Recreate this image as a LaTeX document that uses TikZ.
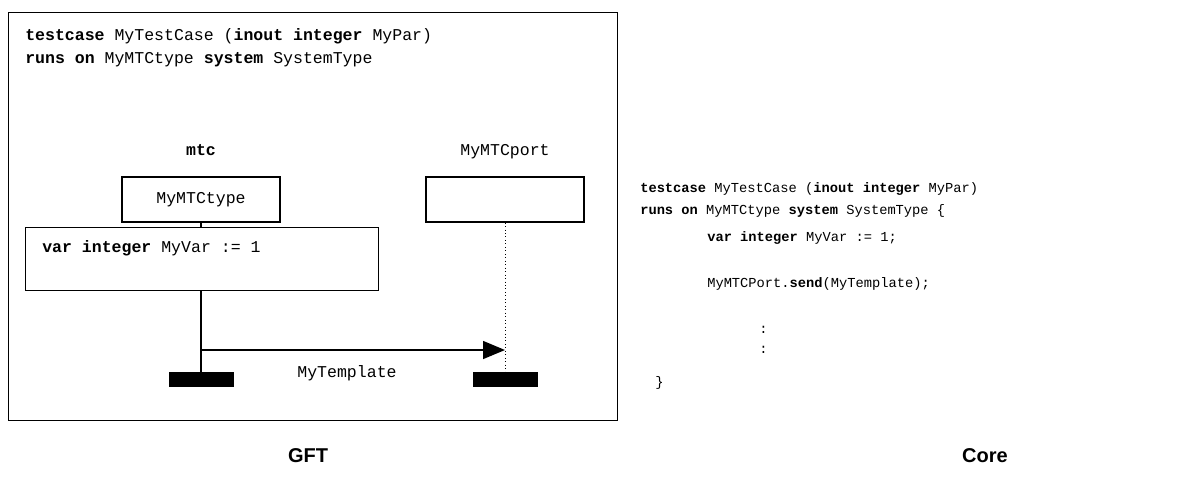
\documentclass[tikz,border=0pt]{standalone}
\usepackage{fontspec}
\setmainfont{Liberation Sans}
\setsansfont{Liberation Sans}
\setmonofont{Liberation Mono}
\usepackage{tikz}
\usetikzlibrary{
  arrows.meta,
  calc,
  positioning
}
\definecolor{MscBlack}{HTML}{000000}
\tikzset{
  every picture/.style = {line join=miter},
  code/.style = {
    font=\ttfamily\fontsize{12.4}{15}\selectfont,
    text=MscBlack,
    inner sep=0pt,
    anchor=base west
  },
  code head/.style = {code, anchor=base},
  core code/.style = {code, font=\ttfamily\fontsize{10.3}{13}\selectfont},
  frame box/.style = {draw=MscBlack, line width=1.1pt},
  instance box/.style = {
    draw=MscBlack,
    fill=white,
    line width=0.9pt,
    minimum width=118.5pt,
    minimum height=33.75pt,
    inner sep=0pt,
    font=\ttfamily\fontsize{12.4}{15}\selectfont
  },
  action box/.style = {
    draw=MscBlack,
    line width=0.9pt,
    minimum width=264.75pt,
    minimum height=47.25pt,
    inner sep=0pt
  },
  end bar/.style = {
    fill=MscBlack,
    minimum width=48.75pt,
    minimum height=11.25pt,
    inner sep=0pt
  },
  lifeline/.style = {draw=MscBlack, line width=0.9pt},
  port line/.style = {draw=MscBlack, line width=0.6pt, dotted},
  message/.style = {
    -{Triangle[length=16.5pt,width=13.5pt]},
    draw=MscBlack,
    line width=1.1pt
  },
  caption/.style = {font=\sffamily\bfseries\fontsize{15}{18}\selectfont, anchor=base}
}

\begin{document}
\begin{tikzpicture}[x=0.75pt,y=-0.75pt]
  \useasboundingbox (0,0) rectangle (1181,480);

  % GFT side
  \node[frame box, minimum width=456.75pt, minimum height=306pt, anchor=north west] (frame) at (8,12) {};
  \node[code] (hdra) at (25,40) {\textbf{testcase} MyTestCase (\textbf{inout integer} MyPar)};
  \node[code] (hdrb) at (25,63) {\textbf{runs on} MyMTCtype \textbf{system} SystemType};

  \node[code head] (mtclbl) at (201,155) {\textbf{mtc}};
  \node[code head] (portlbl) at (505,155) {MyMTCport};

  \node[instance box] (mtcbox) at (201,199.5) {MyMTCtype};
  \node[instance box] (portbox) at (505,199.5) {};

  \node[action box, anchor=north west] (varbox) at (25,227) {};
  \node[code] (vartxt) at (42,252) {\textbf{var integer} MyVar := 1};

  \node[end bar] (mtcbar) at (201,379.5) {};
  \node[end bar] (portbar) at (505,379.5) {};

  \draw[lifeline] (mtcbox.south) -- (mtcbox.south |- varbox.north);
  \draw[lifeline] (mtcbox.south |- varbox.south) -- (mtcbar.north);
  \draw[port line] (portbox.south) -- (portbar.north);

  \coordinate (msgfrom) at (mtcbox.south |- 0,350);
  \coordinate (msgto) at (portbox.south |- 0,350);
  \draw[message] (msgfrom) -- (msgto);
  \node[code head] (msglbl) at (347,377) {MyTemplate};

  % Core side
  \node[core code] (corea) at (640,192) {\textbf{testcase} MyTestCase (\textbf{inout integer} MyPar)};
  \node[core code] (coreb) at (640,214) {\textbf{runs on} MyMTCtype \textbf{system} SystemType \{};
  \node[core code] (corec) at (707,241) {\textbf{var integer} MyVar := 1;};
  \node[core code] (cored) at (707,287) {MyMTCPort.\textbf{send}(MyTemplate);};
  \node[core code] (coree) at (759,333) {:};
  \node[core code] (coref) at (759,353) {:};
  \node[core code] (coreg) at (655,386) {\}};

  \node[caption] (gft) at (308,462) {GFT};
  \node[caption] (core) at (985,462) {Core};
\end{tikzpicture}
\end{document}
